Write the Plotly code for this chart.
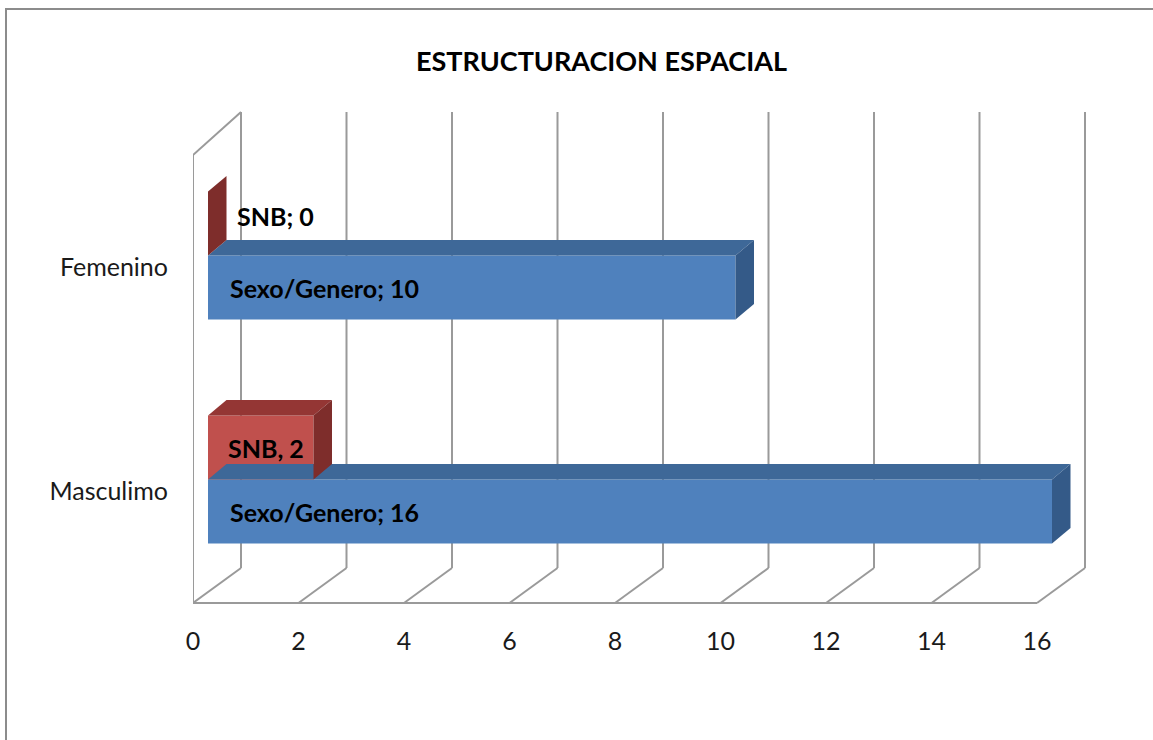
import plotly.graph_objects as go

# ---------------- data ----------------
categories = ["Masculimo", "Femenino"]
sexo_genero = [16, 10]
snb = [2, 0]
series_names = ["Sexo/Genero", "SNB"]
x_ticks = [0, 2, 4, 6, 8, 10, 12, 14, 16]
title_text = "ESTRUCTURACION ESPACIAL"

# ---------------- layout geometry (screen pixels) ----------------
W, H = 1153, 740
FONT = "Lato"

def fx(px):
    return px / W

def fy(py):
    return 1 - py / H

XMAX = 16
# front plane
FRONT_L, FRONT_R = 193, 1037
FRONT_TOP, FRONT_BOT = 155, 603
RIGHT_LIMIT = 1120  # extend plotting area so nothing gets clipped
# wall depth in pixels
DEPTH_DX, DEPTH_DY = 48, -35
BACK_TOP = 112
PPU = (FRONT_R - FRONT_L) / XMAX  # pixels per unit
# bar plane (middle of depth)
BAR_DX = 15
BAR_DY = -11.5
# bar 3d depth
BDX, BDY = 18.5, -15.5
BAR_H_PX = 64

blue_front = "#4F81BD"
blue_top = "#3E6898"
blue_side = "#345A88"
red_front = "#C0504D"
red_top = "#943634"
red_side = "#7E2D2B"
grid_col = "#9A9A9A"

fig = go.Figure()

# front axes (x, y): category labels and tick labels
fig.add_trace(go.Scatter(x=[None], y=[None], xaxis="x", yaxis="y", showlegend=False, hoverinfo="skip"))

# bar axes (x2, y2), shifted into the depth of the chart
cat_pos = list(range(len(categories)))
bar_dom_top = FRONT_TOP + BAR_DY
bar_dom_bot = FRONT_BOT + BAR_DY
cat_px = (bar_dom_bot - bar_dom_top) / len(categories)
bw = BAR_H_PX / cat_px  # bar thickness in category units
ddx = BDX / PPU
ddy = -BDY / cat_px

series = [(sexo_genero, -bw, blue_front, blue_top, blue_side, series_names[0]),
          (snb, 0.0, red_front, red_top, red_side, series_names[1])]

for vals, off, cf, ct, cs, name in series:
    fig.add_trace(go.Bar(
        x=vals, y=cat_pos, orientation="h", width=bw, offset=off,
        marker=dict(color=cf, line=dict(width=0)), name=name,
        xaxis="x2", yaxis="y2", showlegend=False, hoverinfo="skip"))
    for v, c in zip(vals, cat_pos):
        y0 = c + off
        y1 = y0 + bw
        # top face
        fig.add_trace(go.Scatter(
            x=[0, v, v + ddx, ddx, 0], y=[y1, y1, y1 + ddy, y1 + ddy, y1],
            fill="toself", fillcolor=ct, mode="lines", line=dict(width=0, color=ct),
            xaxis="x2", yaxis="y2", showlegend=False, hoverinfo="skip"))
        # side face
        fig.add_trace(go.Scatter(
            x=[v, v, v + ddx, v + ddx, v], y=[y0, y1, y1 + ddy, y0 + ddy, y0],
            fill="toself", fillcolor=cs, mode="lines", line=dict(width=0, color=cs),
            xaxis="x2", yaxis="y2", showlegend=False, hoverinfo="skip"))

# ---------------- frame (walls / floor) ----------------
shapes = []
D = DEPTH_DX / PPU
back_bot = FRONT_BOT + DEPTH_DY
line_style = dict(color=grid_col, width=2)
for t in x_ticks:
    shapes.append(dict(type="line", xref="x", yref="paper", x0=t + D, x1=t + D,
                       y0=fy(BACK_TOP), y1=fy(back_bot), line=line_style, layer="below"))
    shapes.append(dict(type="line", xref="x", yref="paper", x0=t, x1=t + D,
                       y0=fy(FRONT_BOT), y1=fy(back_bot), line=line_style, layer="below"))
# front floor edge
shapes.append(dict(type="line", xref="x", yref="paper", x0=0, x1=XMAX,
                   y0=fy(FRONT_BOT), y1=fy(FRONT_BOT), line=line_style, layer="below"))
# left wall front edge
shapes.append(dict(type="line", xref="x", yref="paper", x0=0, x1=0,
                   y0=fy(FRONT_TOP), y1=fy(FRONT_BOT), line=line_style, layer="below"))
# left wall top edge
shapes.append(dict(type="line", xref="x", yref="paper", x0=0, x1=D,
                   y0=fy(FRONT_TOP), y1=fy(BACK_TOP), line=line_style, layer="below"))
# outer chart border
shapes.append(dict(type="rect", xref="paper", yref="paper", x0=fx(6), x1=fx(W + 20),
                   y0=fy(H + 20), y1=fy(9), line=dict(color="#8C8C8C", width=2)))

# ---------------- labels ----------------
ann = []
lbl_font = dict(family=FONT, size=25, color="black")
for vals, off, name in [(sexo_genero, -bw, series_names[0]), (snb, 0.0, series_names[1])]:
    for v, c, cat in zip(vals, cat_pos, categories):
        yc = c + off + bw / 2
        if name == "SNB":
            s = ";" if v == 0 else ","
            text = f"<b>{name}{s} {v}</b>"
            if v == 0:
                ann.append(dict(x=0, y=yc, xref="x2", yref="y2", text=text, showarrow=False,
                                xanchor="left", xshift=27, yshift=7, font=lbl_font))
            else:
                ann.append(dict(x=v / 2, y=yc, xref="x2", yref="y2", text=text, showarrow=False,
                                xanchor="center", xshift=5, font=lbl_font))
        else:
            text = f"<b>{name}; {v}</b>"
            ann.append(dict(x=0, y=yc, xref="x2", yref="y2", text=text, showarrow=False,
                            xanchor="left", xshift=20, font=lbl_font))

ann.append(dict(x=fx(601), y=fy(60), xref="paper", yref="paper", text=f"<b>{title_text}</b>",
                showarrow=False, xanchor="center", yanchor="middle",
                font=dict(family=FONT, size=27, color="black")))

tick_font = dict(family=FONT, size=25, color="#1a1a1a")
fig.update_layout(
    width=W, height=H, margin=dict(l=0, r=0, t=0, b=0, autoexpand=False),
    paper_bgcolor="white", plot_bgcolor="rgba(0,0,0,0)",
    shapes=shapes, annotations=ann, showlegend=False,
    xaxis=dict(domain=[fx(FRONT_L), fx(RIGHT_LIMIT)],
               range=[0, (RIGHT_LIMIT - FRONT_L) / PPU], tickvals=x_ticks,
               showgrid=False, zeroline=False, showline=False, ticks="outside", ticklen=16,
               tickcolor="rgba(0,0,0,0)", tickfont=tick_font, automargin=False,
               anchor="y", fixedrange=True),
    yaxis=dict(domain=[fy(FRONT_BOT), fy(FRONT_TOP)], type="category",
               categoryarray=categories, categoryorder="array", range=[-0.5, 1.5],
               showgrid=False, zeroline=False, showline=False, ticks="outside", ticklen=19,
               tickcolor="rgba(0,0,0,0)", tickfont=tick_font, automargin=False,
               anchor="x", fixedrange=True),
    xaxis2=dict(domain=[fx(FRONT_L + BAR_DX), fx(RIGHT_LIMIT)],
                range=[0, (RIGHT_LIMIT - FRONT_L - BAR_DX) / PPU], automargin=False,
                visible=False, anchor="y2", fixedrange=True),
    yaxis2=dict(domain=[fy(bar_dom_bot), fy(bar_dom_top)], range=[-0.5, 1.5],
                automargin=False, visible=False, anchor="x2", fixedrange=True),
)

fig.write_html("out.html")
